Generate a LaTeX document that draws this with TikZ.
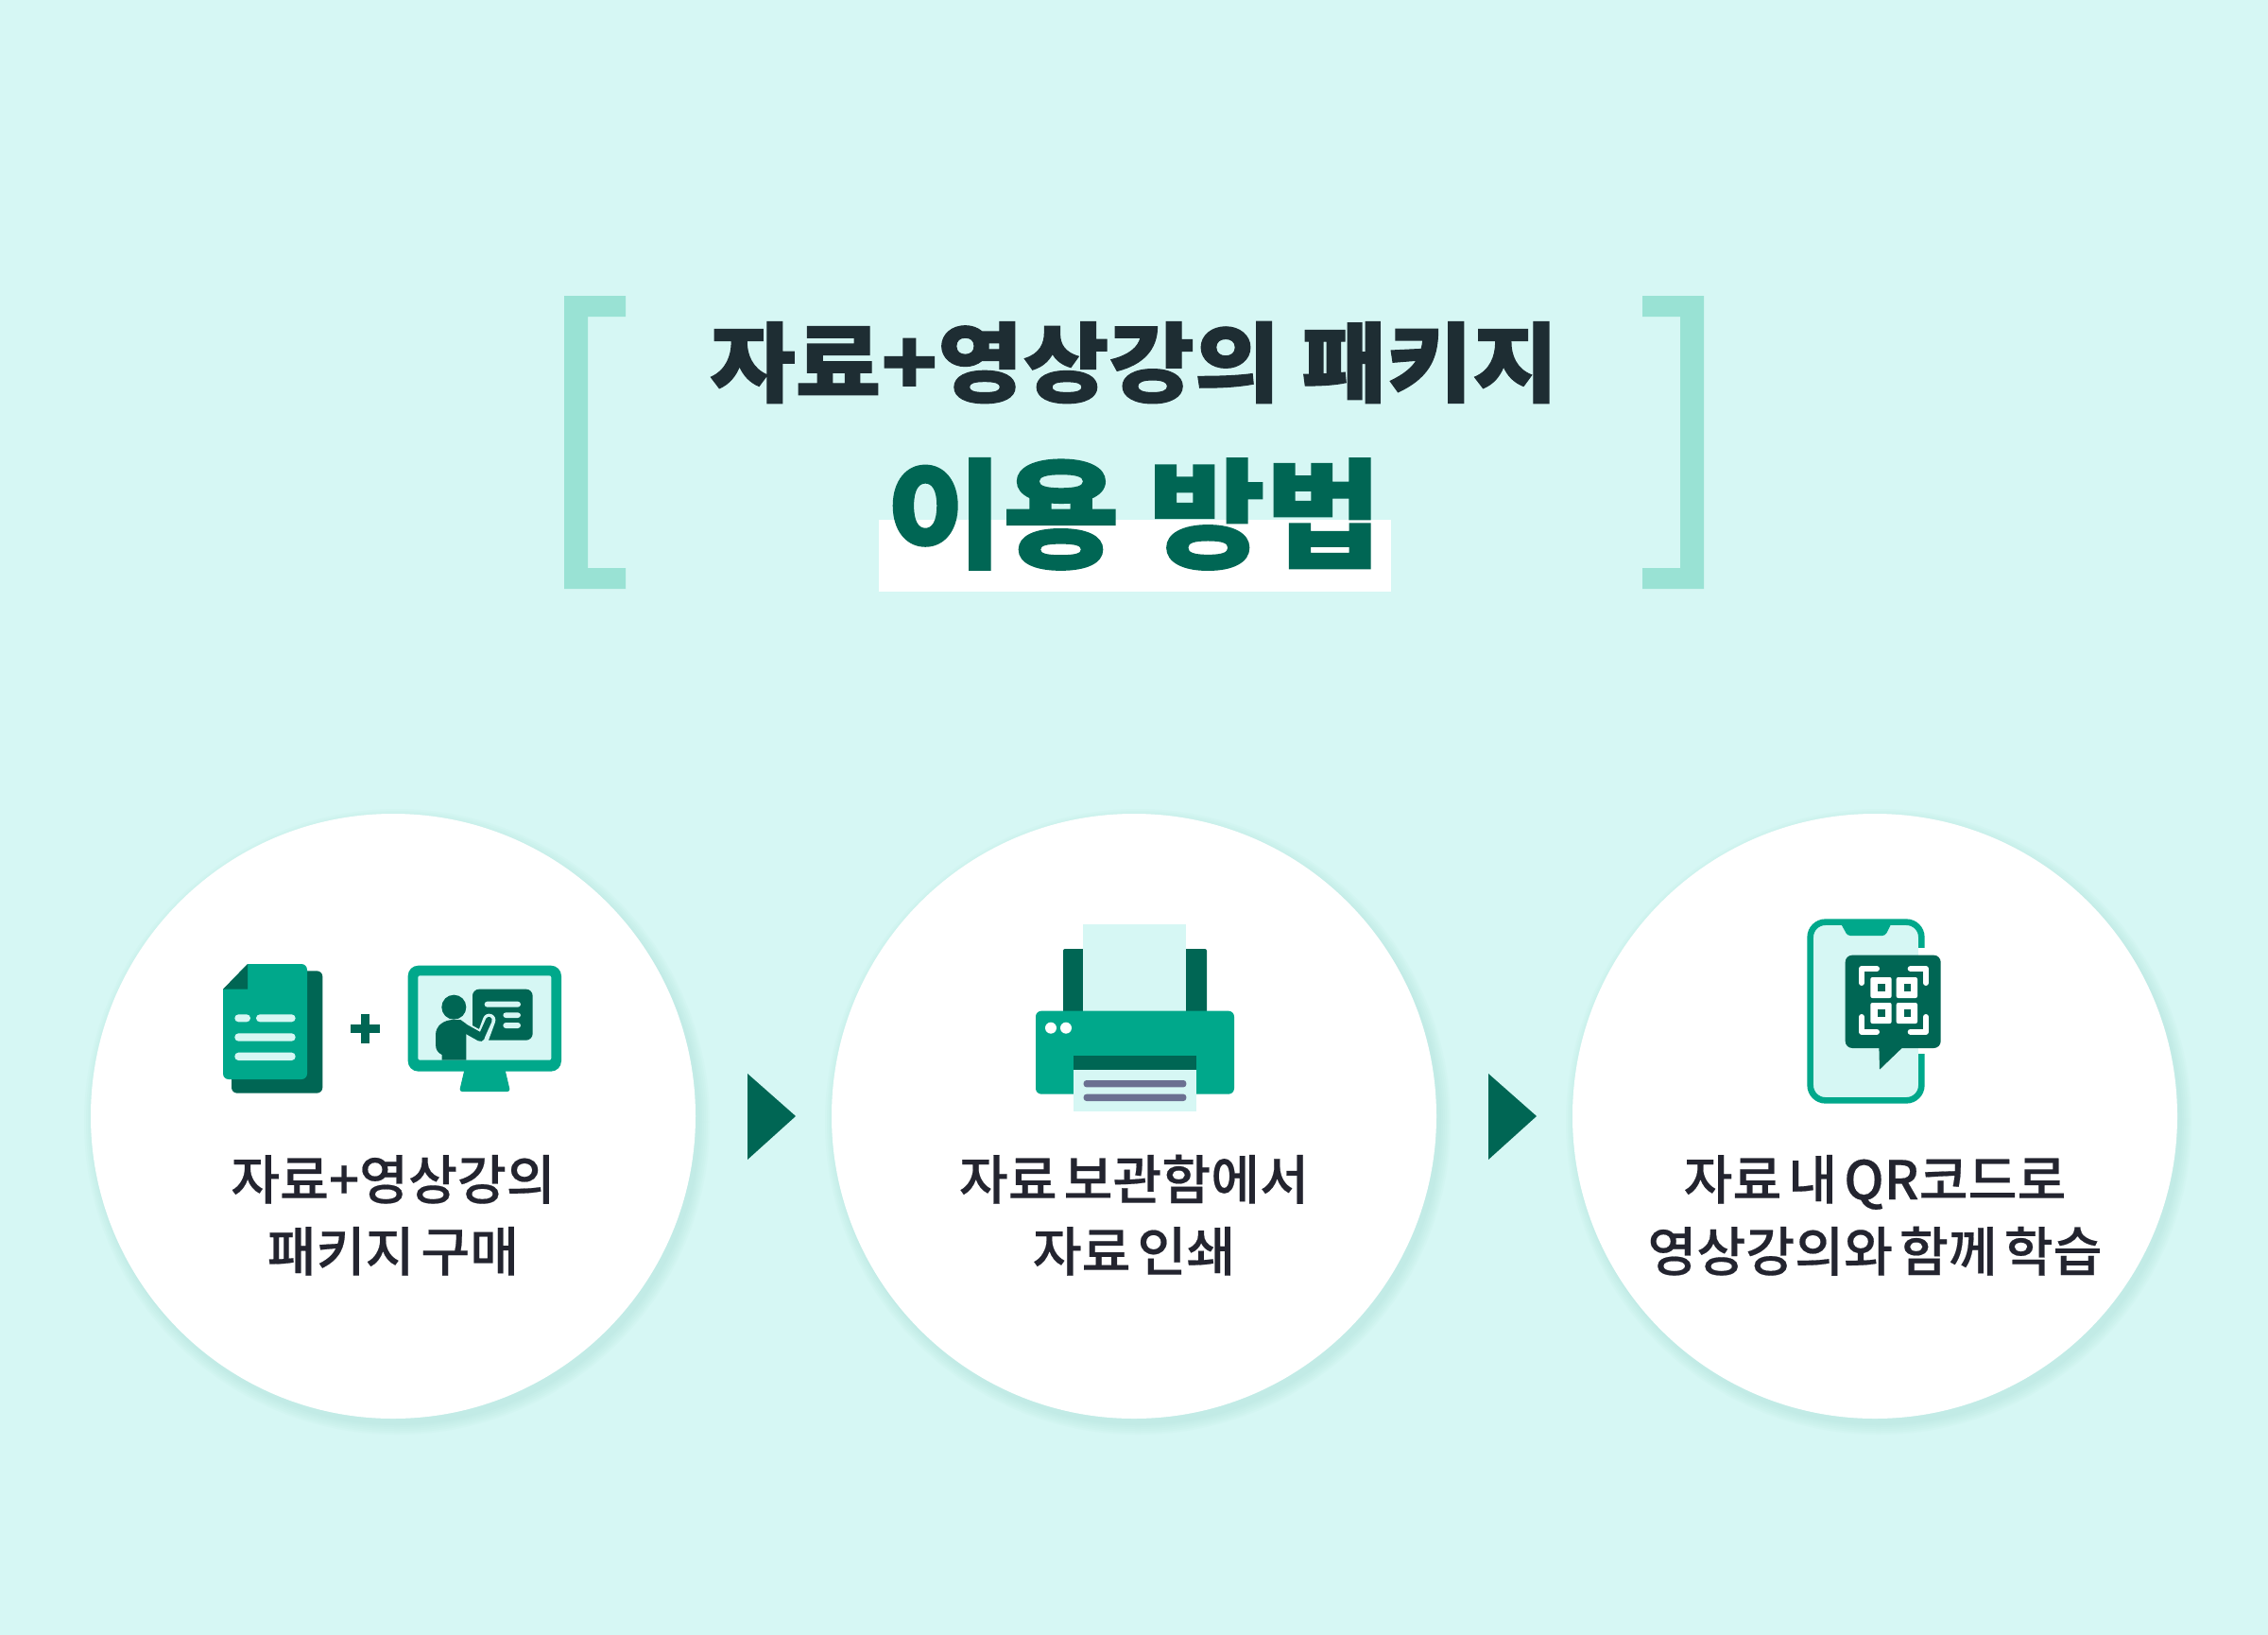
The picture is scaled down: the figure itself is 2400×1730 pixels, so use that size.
\documentclass[tikz,border=0pt]{standalone}
\usepackage{fontspec}
\newfontfamily\bodyfont[FakeBold=0.35,WordSpace=0.55]{Noto Sans CJK KR Medium}
\newfontfamily\blackfont[FakeBold=1.2]{Noto Sans CJK KR Black}
\definecolor{bgmint}{HTML}{D6F7F4}
\definecolor{midgreen}{HTML}{00A88B}
\definecolor{darkgreen}{HTML}{006654}
\definecolor{bracketgreen}{HTML}{99E2D4}
\definecolor{titledark}{HTML}{1E2D33}
\definecolor{bodydark}{HTML}{23242F}
\definecolor{slategray}{HTML}{6B7091}
\definecolor{shadowgreen}{HTML}{6FBFAF}
\tikzset{
  x=0.5pt,y=-0.5pt,
  bracketshape/.style={fill=bracketgreen,draw=none},
  stepcircle/.style={circle,fill=white,draw=none,minimum size=320pt,inner sep=0pt},
  steparrow/.style={fill=darkgreen,draw=none},
  steptext/.style={font=\bodyfont\fontsize{28.2}{28.2}\selectfont,text=bodydark,anchor=base,inner sep=0pt},
  mid/.style={fill=midgreen,draw=none},
  dark/.style={fill=darkgreen,draw=none},
  light/.style={fill=bgmint,draw=none},
  zoomscope/.style={shift={#1},scale=1/3},
}
\begin{document}
\begin{tikzpicture}
\path[use as bounding box,fill=bgmint] (0,0) rectangle (2400,1730);
% brackets
\fill[bracketshape] (662,313)--(597,313)--(597,623)--(662,623)--(662,601)--(622,601)--(622,335)--(662,335)--cycle;
\fill[bracketshape] (1738,313)--(1803,313)--(1803,623)--(1738,623)--(1738,601)--(1778,601)--(1778,335)--(1738,335)--cycle;
% title
\fill[white] (930,550) rectangle (1472,626);
\node[font=\blackfont\fontsize{46}{46}\selectfont,text=titledark,anchor=base,inner sep=0pt,xscale=1.07,transform shape] (title1) at (1200,418) {자료+영상강의 패키지};
\node[font=\blackfont\fontsize{63}{63}\selectfont,text=darkgreen,anchor=base,inner sep=0pt,xscale=1.065,transform shape] (title2) at (1200,591) {이용 방법};
% shadows
\foreach \cx in {416,1200,1984}{
  \foreach \r in {331,329,327,325,323,321}{
    \fill[shadowgreen,opacity=0.03] (\cx+4,1187) circle[radius=\r];
  }
}
% circles
\node[stepcircle] (c1) at (416,1181) {};
\node[stepcircle] (c2) at (1200,1181) {};
\node[stepcircle] (c3) at (1984,1181) {};
% arrows
\fill[steparrow] (791,1136)--(842,1181)--(791,1227)--cycle;
\fill[steparrow] (1575,1136)--(1626,1181)--(1575,1227)--cycle;
% labels
\node[steptext] (t1a) at (416,1269) {자료+영상강의};
\node[steptext] (t1b) at (416,1345) {패키지 구매};
\node[steptext] (t2a) at (1200,1269) {자료 보관함에서};
\node[steptext] (t2b) at (1200,1345) {자료 인쇄};
\node[steptext] (t3a) at (1984,1269) {자료 내 QR코드로};
\node[steptext] (t3b) at (1984,1345) {영상강의와 함께 학습};
% document and lecture icons
\begin{scope}[zoomscope={(200,980)}]
  \fill[dark,rounded corners=3pt] (135,142) rectangle (424,530);
  \fill[mid,rounded corners=3pt] (108,120) rectangle (375,486);
  \fill[white] (100,110)--(186,110)--(186,120)--(108,200)--(100,200)--cycle;
  \fill[dark] (186,120)--(108,200)--(186,200)--cycle;
  \fill[light,rounded corners=2pt] (145,280) rectangle (195,304);
  \fill[light,rounded corners=2pt] (213,280) rectangle (338,304);
  \fill[light,rounded corners=2pt] (145,340) rectangle (338,365);
  \fill[light,rounded corners=2pt] (145,401) rectangle (338,426);
  \fill[dark] (513,311) rectangle (605,339);
  \fill[dark] (546,279) rectangle (573,371);
  \fill[mid,rounded corners=1.5pt] (878,440)--(1000,440)--(1020,525)--(858,525)--cycle;
  \fill[mid,rounded corners=5.5pt] (695,125) rectangle (1182,461);
  \fill[light,rounded corners=1pt] (727,157) rectangle (1150,425);
  \fill[dark,rounded corners=3.5pt] (900,200) rectangle (1091,362);
  \fill[light,rounded corners=1.5pt] (938,239) rectangle (1053,257);
  \fill[light,rounded corners=1.5pt] (997,274) rectangle (1053,291);
  \fill[light,rounded corners=1.5pt] (997,306) rectangle (1053,324);
  \fill[dark] (841,257) circle[radius=39];
  \draw[bgmint,line width=6.7pt,line cap=round,line join=round] (932,355)--(953,298);
  \draw[bgmint,line width=6.7pt,line cap=round] (890,333)--(925,352);
  \fill[dark] (803,425)--(803,408) .. controls (790,402) and (783,392) .. (783,375) -- (783,345) .. controls (783,315) and (810,297) .. (840,297) -- (862,297) -- (880,310) -- (880,425) -- cycle;
  \draw[darkgreen,line width=4.6pt,line cap=round] (868,320)--(925,352);
  \draw[darkgreen,line width=3.4pt,line cap=round] (927,354)--(952,298);
\end{scope}
% printer icon
\begin{scope}[zoomscope={(1060,960)}]
  \fill[dark,rounded corners=1pt] (195,132) rectangle (651,335);
  \fill[light] (259,54) rectangle (586,335);
  \fill[mid,rounded corners=3pt] (108,329) rectangle (738,593);
  \fill[white] (156,383) circle[radius=18];
  \fill[white] (204,383) circle[radius=18];
  \fill[dark] (228,472) rectangle (618,516);
  \fill[light] (228,516) rectangle (618,648);
  \fill[slategray,rounded corners=1.5pt] (260,549) rectangle (586,571);
  \fill[slategray,rounded corners=1.5pt] (260,593) rectangle (586,615);
\end{scope}
% phone icon
\begin{scope}[zoomscope={(1880,960)}]
  \draw[midgreen,fill=bgmint,line width=3.3pt,rounded corners=8pt] (107,47) rectangle (460,613);
  \fill[mid,rounded corners=1.5pt] (203,50)--(365,50)--(345,90)--(225,90)--cycle;
  \fill[white] (449,130) rectangle (472,465);
  \fill[bgmint] (440,130) rectangle (450,465);
  \fill[dark,rounded corners=3.7pt] (218,152) rectangle (521,447);
  \fill[dark] (325,440)--(327,515)--(405,440)--cycle;
  \begin{scope}[white,line width=3pt,line cap=round,line join=round]
    \draw (270,240)--(270,195)--(318,195);
    \draw (425,195)--(474,195)--(474,240);
    \draw (270,348)--(270,395)--(318,395);
    \draw (425,395)--(474,395)--(474,348);
  \end{scope}
  \foreach \qx/\qy in {298/222,380/222,298/303,380/303}{
    \fill[white,rounded corners=1pt] (\qx,\qy) rectangle (\qx+67,\qy+66);
    \fill[dark] (\qx+24,\qy+22) rectangle (\qx+47,\qy+44);
  }
\end{scope}
\end{tikzpicture}
\end{document}
